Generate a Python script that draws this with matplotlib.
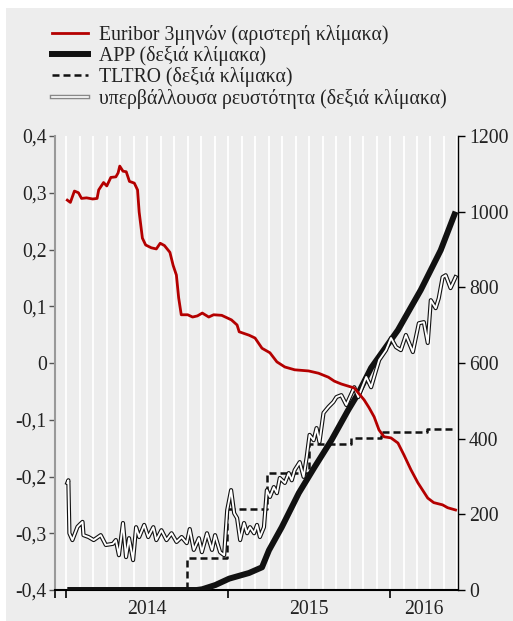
import matplotlib
matplotlib.use("Agg")
import matplotlib.pyplot as plt
import matplotlib.patheffects as pe
from matplotlib.lines import Line2D
from matplotlib.patches import Rectangle
from matplotlib.ticker import FuncFormatter

plt.rcParams['font.family'] = ['Liberation Serif', 'DejaVu Serif']

# --- data (x in decimal years) ---
euribor_t = [2014.006, 2014.025, 2014.05, 2014.075, 2014.094, 2014.125, 2014.163, 2014.19,
             2014.20, 2014.23, 2014.25, 2014.275, 2014.306, 2014.32, 2014.33, 2014.35,
             2014.37, 2014.39, 2014.42, 2014.44, 2014.45, 2014.47, 2014.49, 2014.525,
             2014.556, 2014.58, 2014.606, 2014.64, 2014.66, 2014.68, 2014.694, 2014.71,
             2014.75, 2014.78, 2014.81, 2014.84, 2014.88, 2014.91, 2014.96, 2015.02,
             2015.055, 2015.068, 2015.129, 2015.166, 2015.209, 2015.258, 2015.301,
             2015.35, 2015.411, 2015.497, 2015.558, 2015.619, 2015.656, 2015.699,
             2015.779, 2015.84, 2015.871, 2015.902, 2015.932, 2015.963, 2016.006,
             2016.049, 2016.086, 2016.129, 2016.172, 2016.233, 2016.27, 2016.325,
             2016.356, 2016.405]
euribor_v = [0.287, 0.283, 0.303, 0.300, 0.290, 0.291, 0.289, 0.290,
             0.305, 0.318, 0.312, 0.327, 0.328, 0.335, 0.347, 0.338,
             0.337, 0.320, 0.317, 0.305, 0.266, 0.220, 0.208, 0.203,
             0.201, 0.211, 0.207, 0.195, 0.172, 0.155, 0.115, 0.085,
             0.085, 0.081, 0.083, 0.088, 0.081, 0.085, 0.084, 0.076,
             0.067, 0.055, 0.049, 0.044, 0.026, 0.018, 0.002,
             -0.007, -0.012, -0.014, -0.018, -0.025, -0.032, -0.037,
             -0.044, -0.065, -0.079, -0.095, -0.118, -0.130, -0.132,
             -0.141, -0.162, -0.188, -0.211, -0.238, -0.246, -0.250,
             -0.255, -0.259]

app_t = [2014.006, 2014.806, 2014.84, 2014.92, 2015.006, 2015.129, 2015.209, 2015.252,
         2015.331, 2015.436, 2015.534, 2015.638, 2015.742, 2015.804, 2015.883,
         2016.049, 2016.19, 2016.313, 2016.405]
app_v = [0, 0, 2, 13, 30, 45, 60, 105, 166, 256, 325, 396, 476, 520, 587,
         687, 793, 898, 1000]

tltro_t = [2014.006, 2014.743, 2014.99, 2015.24, 2015.50, 2015.76, 2015.945, 2016.23, 2016.405]
tltro_v = [0, 85, 215, 309, 387, 401, 417, 425, 425]

excess_t = [2014.006, 2014.0125, 2014.019, 2014.0375, 2014.069, 2014.0875, 2014.1, 2014.106,
            2014.1375, 2014.169, 2014.2125, 2014.244, 2014.2875, 2014.306, 2014.325,
            2014.35, 2014.369, 2014.3875, 2014.4125, 2014.431, 2014.45, 2014.481,
            2014.506, 2014.5375, 2014.556, 2014.5875, 2014.619, 2014.65, 2014.681,
            2014.7125, 2014.744, 2014.7625, 2014.7875, 2014.819, 2014.8375, 2014.869,
            2014.9, 2014.919, 2014.95, 2014.975, 2014.994, 2015.018, 2015.037,
            2015.055, 2015.074, 2015.098, 2015.117, 2015.135, 2015.16, 2015.178,
            2015.196, 2015.221, 2015.239, 2015.258, 2015.282, 2015.301, 2015.319,
            2015.35, 2015.374, 2015.393, 2015.411, 2015.442, 2015.466, 2015.485,
            2015.503, 2015.528, 2015.546, 2015.564, 2015.589, 2015.62, 2015.65,
            2015.669, 2015.699, 2015.73, 2015.779, 2015.804, 2015.853, 2015.883,
            2015.914, 2015.933, 2015.975, 2016.006, 2016.037, 2016.067, 2016.098,
            2016.141, 2016.178, 2016.209, 2016.233, 2016.252, 2016.282, 2016.301,
            2016.325, 2016.344, 2016.374, 2016.405]
excess_v = [283, 290, 150, 132, 167, 175, 180, 145,
            140, 132, 145, 119, 122, 132, 92,
            177, 87, 137, 79, 166, 140, 172,
            140, 166, 132, 158, 132, 150, 127,
            140, 124, 161, 106, 137, 100, 150,
            106, 145, 100, 92, 211, 264, 203,
            190, 132, 177, 150, 166, 150, 172,
            140, 166, 264, 246, 272, 256, 296,
            283, 309, 290, 317, 338, 299, 351,
            410, 396, 428, 391, 468, 484, 497,
            510, 515, 489, 536, 510, 563, 536,
            581, 608, 634, 666, 642, 634, 674,
            629, 705, 708, 653, 766, 745, 771,
            827, 832, 798, 827]

left_ticks = [-0.4, -0.3, -0.2, -0.1, 0, 0.1, 0.2, 0.3, 0.4]
right_ticks = [0, 200, 400, 600, 800, 1000, 1200]
years = [2014, 2015, 2016]
xmin, xmax = 2013.93, 2016.42

labels = ["Euribor 3μηνών (αριστερή κλίμακα)", "APP (δεξιά κλίμακα)",
          "TLTRO (δεξιά κλίμακα)", "υπερβάλλουσα ρευστότητα (δεξιά κλίμακα)"]

bg = '#ededed'
red = '#b40000'
txt = '#222222'
fs = 14.2

fig = plt.figure(figsize=(5.13, 6.21), dpi=100, facecolor='white')
fig.patches.append(Rectangle((6 / 513, 0), 1, 1 - 8 / 621, transform=fig.transFigure,
                             facecolor=bg, edgecolor='none', zorder=-10))

ax = fig.add_axes([55 / 513, 31 / 621, 403 / 513, 454 / 621])
ax.set_facecolor(bg)
ax.set_xlim(xmin, xmax)
ax.set_ylim(-0.4, 0.4)

# monthly white gridlines
for y in years:
    for m in range(12):
        xm = y + m / 12
        if xmin < xm < xmax:
            ax.axvline(xm, color='white', lw=1.3, zorder=0)

ax.set_yticks(left_ticks)
ax.yaxis.set_major_formatter(FuncFormatter(lambda v, p: ('%g' % round(v, 1)).replace('.', ',')))
ax.tick_params(axis='y', direction='out', length=4, width=1, color='#555555',
               labelsize=fs, labelcolor=txt, pad=2)
ax.set_xticks([xmin] + years)
ax.set_xticklabels([])
ax.set_xticks([2014.5, 2015.5, (2016 + xmax) / 2], minor=True)
ax.set_xticklabels(['2014', '2015', '2016'], minor=True)
ax.tick_params(axis='x', which='major', direction='out', length=6, width=1.2, color='black')
ax.tick_params(axis='x', which='minor', length=0, labelsize=fs, labelcolor=txt, pad=7)
ax.spines['top'].set_visible(False)
ax.spines['right'].set_visible(False)
ax.spines['left'].set_color('#999999')
ax.spines['left'].set_linewidth(1.5)
ax.spines['bottom'].set_color('black')
ax.spines['bottom'].set_linewidth(1.5)

# right scale series
ax2 = ax.twinx()
ax2.set_ylim(0, 1200)
ax2.set_yticks(right_ticks)
ax2.tick_params(axis='y', direction='out', length=5, width=1, color='black',
                labelsize=fs, labelcolor=txt, pad=3)
for s in ['top', 'left', 'bottom']:
    ax2.spines[s].set_visible(False)
ax2.spines['right'].set_color('black')
ax2.spines['right'].set_linewidth(1)

ax2.plot(tltro_t, tltro_v, color='#111111', lw=1.8, ls=(0, (2.8, 1.6)),
         drawstyle='steps-post', zorder=2)
ax2.plot(app_t, app_v, color='#111111', lw=4.3, solid_capstyle='butt', zorder=3)
excess_fx = [pe.Stroke(linewidth=3.0, foreground='#111111'), pe.Normal()]
ax2.plot(excess_t, excess_v, color='white', lw=1.4, zorder=4, path_effects=excess_fx)

# left scale series drawn on top
ax3 = ax.twinx()
ax3.set_ylim(-0.4, 0.4)
ax3.axis('off')
ax3.plot(euribor_t, euribor_v, color=red, lw=2.0, zorder=5)

handles = [
    Line2D([], [], color=red, lw=2.0),
    Line2D([], [], color='#111111', lw=4.3),
    Line2D([], [], color='#111111', lw=1.8, ls=(0, (2.8, 1.6))),
    Line2D([], [], color='white', lw=1.2,
           path_effects=[pe.Stroke(linewidth=3.2, foreground='#888888'), pe.Normal()]),
]
fig.legend(handles, labels, loc='upper left', bbox_to_anchor=(52 / 513, 1 - 25 / 621),
           frameon=False, fontsize=fs, labelcolor=txt, handlelength=1.85,
           handletextpad=0.55, labelspacing=0.06, borderpad=0, borderaxespad=0)

fig.savefig('out.png', dpi=100, facecolor=fig.get_facecolor())
